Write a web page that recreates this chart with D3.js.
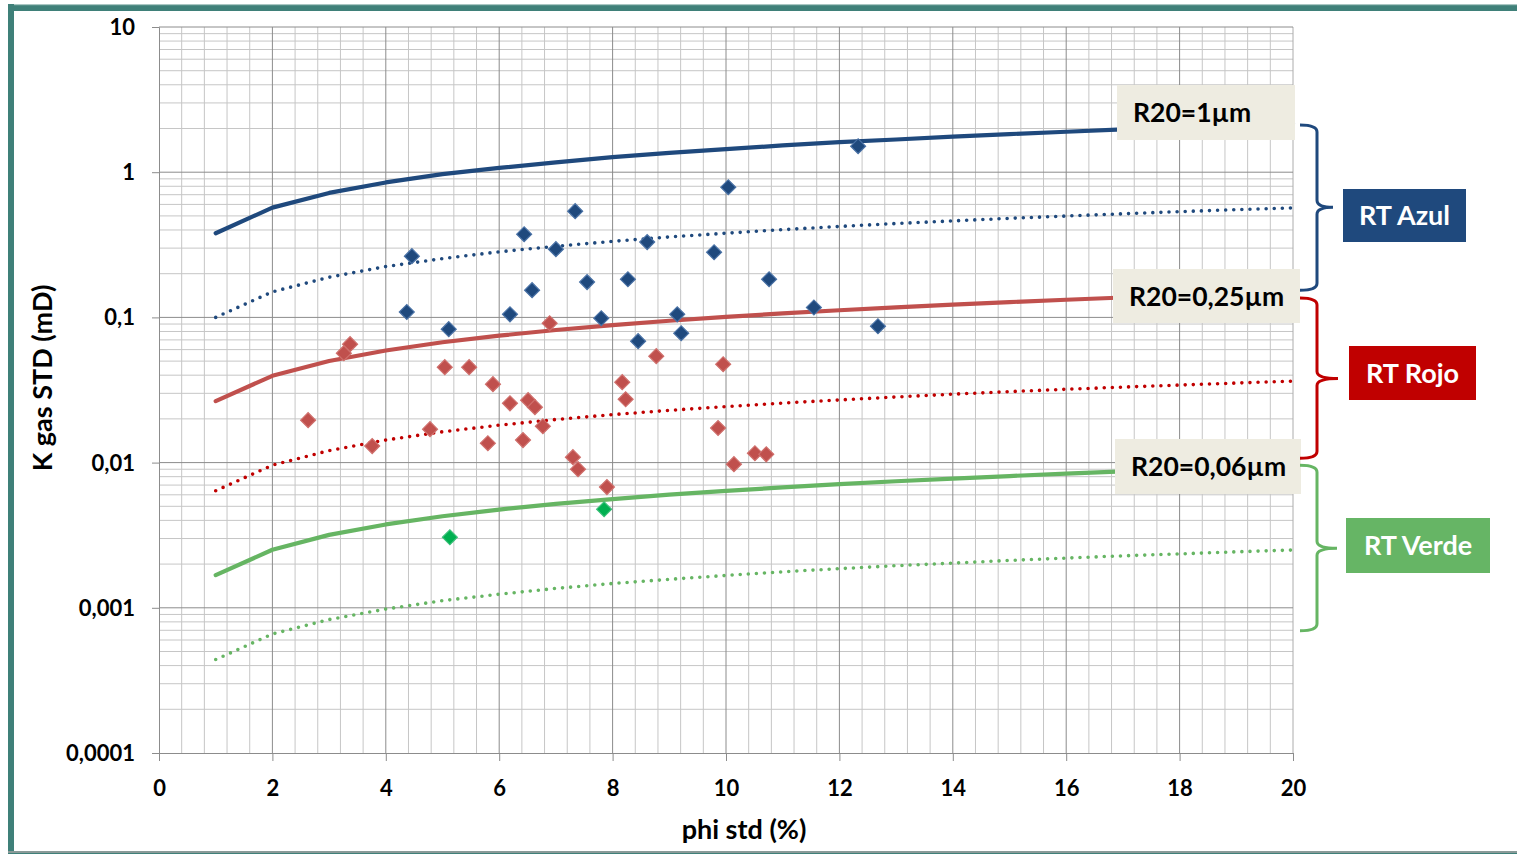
<!DOCTYPE html>
<html>
<head>
<meta charset="utf-8">
<script src="https://cdn.jsdelivr.net/npm/d3@7/dist/d3.min.js"></script>
<style>
  html, body { margin: 0; padding: 0; background: #fff; }
  svg { display: block; }
  text { font-family: Lato, "Open Sans", sans-serif; font-weight: 700; }
</style>
</head>
<body>
<svg id="chart" width="1517" height="854"></svg>
<script>
// Porosity grid for the R20 iso-throat curves
const phiCurve = [1,2,3,4,5,6,7,8,9,10,11,12,13,14,15,16,17,18,19,20];

// R20 iso-throat curves (permeability, mD)
const azulSolid  = [0.38,0.57,0.72,0.85,0.97,1.07,1.17,1.27,1.36,1.44,1.53,1.61,1.68,1.76,1.83,1.90,1.97,2.03,2.10,2.16];
const azulDotted = [0.100,0.150,0.189,0.224,0.254,0.283,0.309,0.334,0.358,0.380,0.402,0.423,0.443,0.462,0.481,0.499,0.517,0.535,0.552,0.568];
const rojoSolid  = [0.0265,0.0396,0.0501,0.0592,0.0674,0.0749,0.0819,0.0885,0.0948,0.1008,0.1065,0.1120,0.1173,0.1225,0.1275,0.1323,0.1371,0.1417,0.1462,0.1506];
const rojoDotted = [0.0064,0.0096,0.0121,0.0143,0.0163,0.0181,0.0198,0.0214,0.0229,0.0243,0.0257,0.0270,0.0283,0.0296,0.0308,0.0320,0.0331,0.0342,0.0353,0.0364];
const verdeSolid = [0.00168,0.00251,0.00318,0.00375,0.00427,0.00475,0.00519,0.00561,0.00601,0.00639,0.00675,0.00710,0.00744,0.00776,0.00808,0.00839,0.00869,0.00898,0.00927,0.00955];
const verdeDotted= [0.00044,0.00066,0.00083,0.00098,0.00112,0.00124,0.00136,0.00147,0.00157,0.00167,0.00177,0.00186,0.00195,0.00203,0.00212,0.00220,0.00228,0.00235,0.00243,0.00250];

// Samples: porosity (%) and gas permeability (mD)
const azulPhi = [4.46,4.37,5.11,6.44,6.58,6.19,7.00,7.34,7.55,7.80,8.27,8.61,8.45,9.14,9.21,9.79,10.04,10.76,11.55,12.33,12.68];
const azulK   = [0.264,0.109,0.083,0.374,0.154,0.105,0.295,0.539,0.175,0.0987,0.183,0.330,0.0686,0.105,0.0778,0.281,0.788,0.183,0.117,1.51,0.0869];

const rojoPhi = [2.63,3.26,3.37,3.76,4.78,5.04,5.47,5.89,5.80,6.19,6.51,6.63,6.42,6.77,6.89,7.30,7.39,7.90,8.17,8.23,8.77,9.95,9.86,10.14,10.51,10.71];
const rojoK   = [0.0196,0.0567,0.0654,0.0130,0.0170,0.0454,0.0454,0.0347,0.0136,0.0256,0.0269,0.0241,0.0143,0.0178,0.0912,0.0109,0.00901,0.00678,0.0358,0.0273,0.0541,0.0476,0.0173,0.00975,0.0116,0.0114];

const verdePhi = [5.13,7.85];
const verdeK   = [0.00306,0.00477];

// Axis ticks
const xTicks = [0,2,4,6,8,10,12,14,16,18,20];
const yTicks = [0.0001,0.001,0.01,0.1,1,10];
const yTickLabels = ["0,0001","0,001","0,01","0,1","1","10"];

// Curve labels and rock-type groups
const r20Labels = ["R20=1µm","R20=0,25µm","R20=0,06µm"];
const rtNames   = ["RT Azul","RT Rojo","RT Verde"];
const braceTop  = [2.11,0.136,0.0096];
const braceMid  = [0.574,0.038,0.00257];
const braceBot  = [0.154,0.0107,0.000696];

const C = {
  azul: "#1f497d", azulEdge: "#4a72a6",
  rojo: "#c0504d", rojoDot: "#c00000", rojoBox: "#c00000",
  verde: "#66b563", verdeMark: "#00b050", verdeBox: "#66b565",
  frame: "#3f8079", gridMinor: "#c6c6c6", gridMajor: "#8c8c8c",
  labelBg: "#eeece1"
};

const svg = d3.select("#chart");
const x = d3.scaleLinear().domain([0,20]).range([159,1293]);
const y = d3.scaleLog().domain([0.0001,10]).range([753,27]);

// Outer frame
svg.append("rect").attr("x",0).attr("y",0).attr("width",1517).attr("height",854).attr("fill","#fff");
svg.append("rect").attr("x",8).attr("y",4).attr("width",1509).attr("height",7).attr("fill",C.frame);
svg.append("rect").attr("x",8).attr("y",4).attr("width",1509).attr("height",1.2).attr("fill","#a9c7c3");
svg.append("rect").attr("x",8).attr("y",4).attr("width",6).attr("height",850).attr("fill",C.frame);
svg.append("rect").attr("x",8).attr("y",851).attr("width",1509).attr("height",2).attr("fill","#8a9a98");
svg.append("rect").attr("x",8).attr("y",853).attr("width",1509).attr("height",1).attr("fill",C.frame);

// Grid
const grid = svg.append("g");
const xMinor = d3.range(0, 50).map(i => i * 0.4).filter(v => Math.abs(v / 2 - Math.round(v / 2)) > 1e-6);
grid.selectAll(".vx").data(xMinor).join("line")
  .attr("x1", d => x(d)).attr("x2", d => x(d)).attr("y1", y(10)).attr("y2", y(0.0001))
  .attr("stroke", C.gridMinor).attr("stroke-width", 1);
const yMinor = [];
[0.0001,0.001,0.01,0.1,1].forEach(dec => { for (let m = 2; m <= 9; m++) yMinor.push(dec * m); });
grid.selectAll(".hy").data(yMinor).join("line")
  .attr("x1", x(0)).attr("x2", x(20)).attr("y1", d => y(d)).attr("y2", d => y(d))
  .attr("stroke", C.gridMinor).attr("stroke-width", 1);
grid.selectAll(".vX").data(xTicks.slice(1)).join("line")
  .attr("x1", d => x(d)).attr("x2", d => x(d)).attr("y1", y(10)).attr("y2", y(0.0001))
  .attr("stroke", d => d === 20 ? "#acacac" : C.gridMajor).attr("stroke-width", 1);
grid.selectAll(".hY").data(yTicks.slice(1)).join("line")
  .attr("x1", x(0)).attr("x2", x(20)).attr("y1", d => y(d)).attr("y2", d => y(d))
  .attr("stroke", C.gridMajor).attr("stroke-width", 1);

// Axes
const yAxis = d3.axisLeft(y).tickValues(yTicks).tickSize(7).tickPadding(17)
  .tickFormat((d, i) => yTickLabels[i]);
const gy = svg.append("g").attr("transform", `translate(${x(0)},0)`).call(yAxis);
gy.select(".domain").attr("stroke", C.gridMajor);
gy.selectAll(".tick line").attr("stroke", C.gridMajor);
gy.selectAll(".tick text").attr("fill", "#000").style("font-size", "22px").style("font-family", "Lato")
  .attr("dy", "0.34em");

const xAxis = d3.axisBottom(x).tickValues(xTicks).tickSize(8).tickPadding(19).tickFormat(d3.format("d"));
const gx = svg.append("g").attr("transform", `translate(0,${y(0.0001)})`).call(xAxis);
gx.select(".domain").attr("stroke", C.gridMajor);
gx.selectAll(".tick line").attr("stroke", C.gridMajor);
gx.selectAll(".tick text").attr("fill", "#000").style("font-size", "22px").style("font-family", "Lato");

// Axis titles
svg.append("text").attr("x", 744).attr("y", 839).attr("text-anchor", "middle")
  .style("font-size", "27px").text("phi std (%)");
svg.append("text").attr("transform", "translate(52,378) rotate(-90)").attr("text-anchor", "middle")
  .style("font-size", "27px").text("K gas STD (mD)");

// Curves
const line = d3.line().x(d => x(d[0])).y(d => y(d[1]));
const curves = [
  { v: azulSolid,  c: C.azul,    dot: false },
  { v: azulDotted, c: C.azul,    dot: true },
  { v: rojoSolid,  c: C.rojo,    dot: false },
  { v: rojoDotted, c: C.rojoDot, dot: true },
  { v: verdeSolid, c: C.verde,   dot: false },
  { v: verdeDotted,c: C.verde,   dot: true }
];
curves.forEach(cv => {
  svg.append("path").datum(phiCurve.map((p, i) => [p, cv.v[i]]))
    .attr("d", line).attr("fill", "none").attr("stroke", cv.c)
    .attr("stroke-width", cv.dot ? 3.6 : 4.2)
    .attr("stroke-linecap", "round").attr("stroke-linejoin", "round")
    .attr("stroke-dasharray", cv.dot ? "0 8.1" : null);
});

// Sample markers (diamonds)
const diamond = d3.symbol().type(d3.symbolSquare).size(112);
function drawSamples(phi, k, fill, edge) {
  svg.append("g").selectAll("path").data(phi.map((p, i) => [p, k[i]])).join("path")
    .attr("d", diamond)
    .attr("transform", d => `translate(${x(d[0])},${y(d[1])}) rotate(45)`)
    .attr("fill", fill).attr("stroke", edge).attr("stroke-width", 1.2);
}
drawSamples(azulPhi, azulK, C.azul, C.azulEdge);
drawSamples(rojoPhi, rojoK, C.rojo, "#cf6f6c");
drawSamples(verdePhi, verdeK, C.verdeMark, "#3cc07a");

// R20 curve labels
const labelBoxes = [
  { x0: 1117, y0: 85,  w: 178, h: 55 },
  { x0: 1113, y0: 269, w: 187, h: 54 },
  { x0: 1115, y0: 439, w: 186, h: 55 }
];
r20Labels.forEach((t, i) => {
  const b = labelBoxes[i];
  svg.append("rect").attr("x", b.x0).attr("y", b.y0).attr("width", b.w).attr("height", b.h).attr("fill", C.labelBg);
  svg.append("text").attr("x", b.x0 + 16).attr("y", b.y0 + b.h / 2 + 9.5)
    .style("font-size", "26.5px").attr("fill", "#000").text(t);
});

// Braces grouping each rock type
const braceColors = [C.azul, C.rojoBox, C.verde];
const braceTip = [1333, 1338, 1337];
function bracePath(x0, xv, xp, y0, ym, y1, r) {
  return `M${x0},${y0} Q${xv},${y0} ${xv},${y0 + r} L${xv},${ym - r} Q${xv},${ym} ${xp},${ym}` +
         ` Q${xv},${ym} ${xv},${ym + r} L${xv},${y1 - r} Q${xv},${y1} ${x0},${y1}`;
}
rtNames.forEach((t, i) => {
  svg.append("path")
    .attr("d", bracePath(1300, 1317, braceTip[i], y(braceTop[i]), y(braceMid[i]), y(braceBot[i]), 7))
    .attr("fill", "none").attr("stroke", braceColors[i]).attr("stroke-width", 3);
});

// Rock-type boxes
const rtBoxes = [
  { x0: 1343, y0: 189, w: 123, h: 53, c: C.azul },
  { x0: 1349, y0: 346, w: 127, h: 54, c: C.rojoBox },
  { x0: 1346, y0: 518, w: 144, h: 55, c: C.verdeBox }
];
rtNames.forEach((t, i) => {
  const b = rtBoxes[i];
  svg.append("rect").attr("x", b.x0).attr("y", b.y0).attr("width", b.w).attr("height", b.h).attr("fill", b.c);
  svg.append("text").attr("x", b.x0 + b.w / 2).attr("y", b.y0 + b.h / 2 + 9.5).attr("text-anchor", "middle")
    .style("font-size", "27px").attr("fill", "#fff").text(t);
});
</script>
</body>
</html>
